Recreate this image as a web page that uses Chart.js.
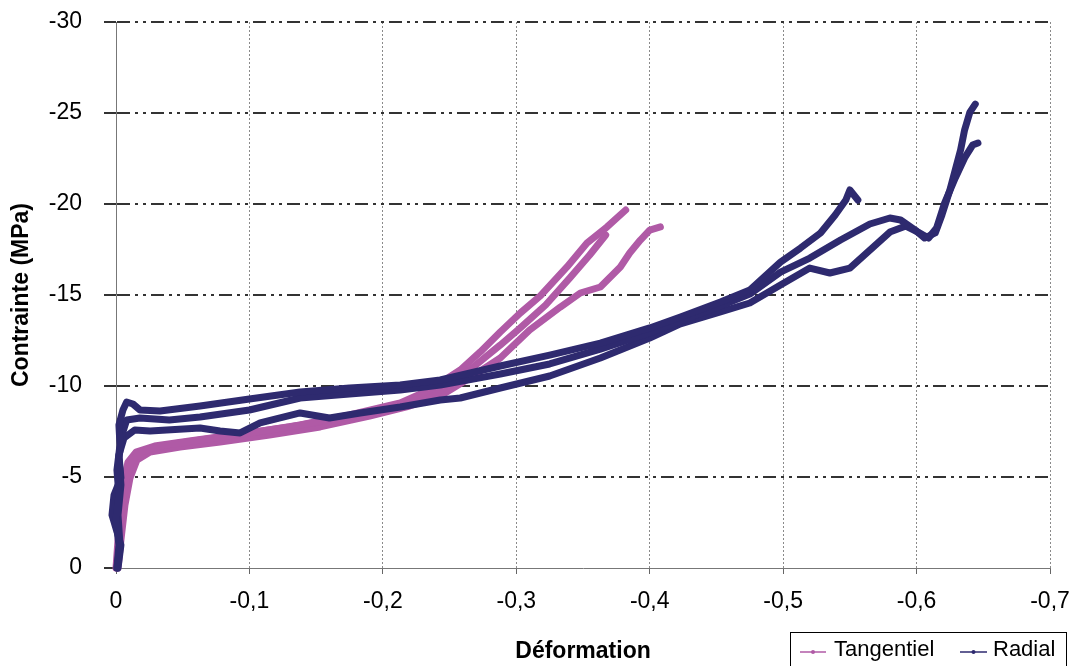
<!DOCTYPE html>
<html>
<head>
<meta charset="utf-8">
<script src="https://cdn.jsdelivr.net/npm/chart.js@4/dist/chart.umd.min.js"></script>
<style>
  html, body { margin: 0; padding: 0; background: #fff; }
  #wrap { position: relative; width: 1076px; height: 666px; }
</style>
</head>
<body>
<div id="wrap"><canvas id="chart"></canvas></div>
<script>
// Contrainte / Deformation - essais tangentiel et radial (3 courbes chacun)

var xTicks = [0, -0.1, -0.2, -0.3, -0.4, -0.5, -0.6, -0.7];
var yTicks = [0, -5, -10, -15, -20, -25, -30];
var seriesNames = ['Tangentiel', 'Radial'];

// Tangentiel
var tang1X = [-0.0007, -0.0022, -0.0045, -0.0075, -0.0112, -0.018, -0.033, -0.063, -0.100, -0.138, -0.175, -0.213, -0.235, -0.258, -0.273, -0.288, -0.303, -0.318, -0.338, -0.353, -0.368, -0.382];
var tang1Y = [0, -1.54, -3.46, -4.84, -5.82, -6.37, -6.70, -7.03, -7.42, -7.86, -8.41, -9.07, -9.78, -10.88, -11.87, -12.97, -14.01, -14.95, -16.54, -17.86, -18.74, -19.67];

var tang2X = [-0.0015, -0.0037, -0.0067, -0.0105, -0.0157, -0.0255, -0.048, -0.078, -0.115, -0.153, -0.190, -0.220, -0.243, -0.265, -0.288, -0.310, -0.333, -0.348, -0.363, -0.378, -0.385, -0.393, -0.400, -0.408];
var tang2Y = [0, -1.54, -3.46, -4.95, -5.93, -6.37, -6.65, -6.92, -7.31, -7.75, -8.35, -8.90, -9.45, -10.44, -11.54, -13.08, -14.34, -15.11, -15.44, -16.54, -17.31, -18.02, -18.57, -18.74];

var tang3X = [0, -0.0015, -0.0037, -0.006, -0.009, -0.015, -0.029, -0.055, -0.093, -0.130, -0.168, -0.213, -0.243, -0.265, -0.288, -0.303, -0.322, -0.340, -0.355, -0.367];
var tang3Y = [0, -1.54, -3.46, -4.84, -5.82, -6.37, -6.70, -6.98, -7.36, -7.75, -8.24, -8.96, -9.78, -10.88, -12.25, -13.19, -14.45, -15.93, -17.20, -18.30];

// Radial
var rad1X = [-0.0007, -0.0022, 0, -0.0022, -0.0007, -0.003, -0.0022, -0.0052, -0.008, -0.0127, -0.018, -0.033, -0.063, -0.100, -0.138, -0.175, -0.213, -0.243, -0.288, -0.325, -0.363, -0.400, -0.423, -0.453, -0.475, -0.498, -0.513, -0.528, -0.539, -0.547, -0.550, -0.556];
var rad1Y = [0, -1.26, -2.64, -4.01, -5.38, -6.76, -7.86, -8.68, -9.12, -9.01, -8.68, -8.63, -8.90, -9.29, -9.67, -9.89, -10.05, -10.33, -11.10, -11.70, -12.36, -13.19, -13.79, -14.62, -15.27, -16.81, -17.58, -18.41, -19.40, -20.22, -20.77, -20.22];

var rad2X = [-0.0007, -0.003, -0.0015, -0.0037, -0.0022, -0.0045, -0.008, -0.018, -0.040, -0.063, -0.100, -0.138, -0.175, -0.213, -0.243, -0.288, -0.325, -0.363, -0.400, -0.423, -0.453, -0.475, -0.498, -0.520, -0.543, -0.565, -0.580, -0.588, -0.599, -0.606, -0.614, -0.619, -0.625, -0.629, -0.633, -0.636, -0.640, -0.644];
var rad2Y = [0, -1.26, -2.91, -4.56, -6.04, -7.31, -8.13, -8.24, -8.13, -8.30, -8.68, -9.34, -9.56, -9.78, -10.05, -10.66, -11.21, -12.03, -12.91, -13.57, -14.40, -15.05, -16.26, -17.03, -18.02, -18.90, -19.23, -19.12, -18.57, -18.13, -18.41, -19.40, -20.77, -21.87, -22.97, -24.07, -25.05, -25.49];

var rad3X = [-0.0015, -0.0037, 0.003, 0.0015, -0.0037, -0.0022, -0.006, -0.014, -0.0255, -0.063, -0.078, -0.093, -0.108, -0.138, -0.160, -0.183, -0.213, -0.243, -0.258, -0.288, -0.325, -0.363, -0.400, -0.423, -0.453, -0.475, -0.498, -0.520, -0.535, -0.550, -0.565, -0.580, -0.592, -0.601, -0.609, -0.615, -0.621, -0.629, -0.636, -0.642, -0.646];
var rad3Y = [0, -1.26, -2.91, -4.01, -4.95, -6.21, -7.14, -7.58, -7.53, -7.69, -7.53, -7.42, -7.97, -8.52, -8.24, -8.52, -8.85, -9.23, -9.34, -9.89, -10.55, -11.54, -12.64, -13.41, -14.07, -14.56, -15.55, -16.48, -16.21, -16.48, -17.47, -18.46, -18.79, -18.46, -18.13, -18.68, -20.05, -21.43, -22.53, -23.24, -23.35];

var TANG_COLOR = '#b05aa6';
var RAD_COLOR = '#2e2a6f';
var FONT = "'Liberation Sans', Arial, sans-serif";

function pts(xs, ys) {
	return xs.map(function(x, i) { return { x: x, y: ys[i] }; });
}

function curve(xs, ys, color, order) {
	return {
		data: pts(xs, ys),
		showLine: true,
		borderColor: color,
		backgroundColor: color,
		borderWidth: 7,
		borderJoinStyle: 'round',
		borderCapStyle: 'round',
		pointRadius: 0,
		tension: 0,
		order: order,
		clip: { left: 10, top: 0, right: 0, bottom: 4 }
	};
}

function fmt(v) {
	if (Math.abs(v) < 1e-9) return '0';
	return v.toFixed(1).replace('.', ',');
}

// legend drawn in a frame at the bottom right, like the original
var legendBox = {
	id: 'legendBox',
	afterDraw: function(chart) {
		var ctx = chart.ctx;
		ctx.save();
		ctx.strokeStyle = '#000';
		ctx.lineWidth = 1;
		ctx.strokeRect(790.5, 632.5, 276, 40);
		var items = [
			{ name: seriesNames[0], color: TANG_COLOR, x0: 800, x1: 826, tx: 834 },
			{ name: seriesNames[1], color: RAD_COLOR, x0: 960, x1: 987, tx: 993 }
		];
		ctx.font = '22px ' + FONT;
		ctx.textBaseline = 'middle';
		ctx.textAlign = 'left';
		items.forEach(function(it) {
			ctx.strokeStyle = it.color;
			ctx.lineWidth = 1.5;
			ctx.beginPath();
			ctx.moveTo(it.x0, 652);
			ctx.lineTo(it.x1, 652);
			ctx.stroke();
			ctx.fillStyle = it.color;
			ctx.beginPath();
			ctx.arc((it.x0 + it.x1) / 2, 652, 2, 0, Math.PI * 2);
			ctx.fill();
			ctx.fillStyle = '#000';
			ctx.fillText(it.name, it.tx, 650);
		});
		ctx.restore();
	}
};

new Chart(document.getElementById('chart'), {
	type: 'scatter',
	data: {
		datasets: [
			curve(tang1X, tang1Y, TANG_COLOR, 2),
			curve(tang3X, tang3Y, TANG_COLOR, 2),
			curve(tang2X, tang2Y, TANG_COLOR, 2),
			curve(rad1X, rad1Y, RAD_COLOR, 1),
			curve(rad2X, rad2Y, RAD_COLOR, 1),
			curve(rad3X, rad3Y, RAD_COLOR, 1)
		]
	},
	options: {
		responsive: true,
		maintainAspectRatio: false,
		animation: false,
		layout: { padding: { left: 0, right: 26, top: 22, bottom: 0 } },
		plugins: {
			legend: { display: false },
			tooltip: { enabled: false }
		},
		scales: {
			x: {
				type: 'linear',
				min: -0.7,
				max: 0,
				reverse: true,
				afterFit: function(s) {
					s.height = 98;
					s.paddingLeft = 0;
					s.paddingRight = 20;
				},
				afterBuildTicks: function(s) { s.ticks = xTicks.map(function(v) { return { value: v }; }); },
				ticks: {
					color: '#000',
					font: { family: FONT, size: 23 },
					padding: 14,
					maxRotation: 0,
					callback: function(v) { return fmt(v); }
				},
				grid: {
					color: function(c) { return c.tick && c.tick.value === 0 ? 'rgba(0,0,0,0)' : '#8a8a8a'; },
					lineWidth: 1,
					tickLength: 6,
					tickColor: '#666',
					tickWidth: 1
				},
				border: { display: true, color: '#777', width: 1, dash: [2, 2] },
				title: {
					display: true,
					text: 'Déformation',
					color: '#000',
					font: { family: FONT, size: 23, weight: 'bold' },
					padding: { top: 0, bottom: 1 }
				}
			},
			y: {
				type: 'linear',
				min: -30,
				max: 0,
				reverse: true,
				afterFit: function(s) {
					s.width = 116;
					s.paddingTop = 14;
					s.paddingBottom = 0;
				},
				afterBuildTicks: function(s) { s.ticks = yTicks.map(function(v) { return { value: v }; }); },
				ticks: {
					color: '#000',
					font: { family: FONT, size: 23 },
					padding: 22,
					callback: function(v) { return fmt(v).replace(',0', ''); }
				},
				grid: {
					color: function(c) { return c.tick && c.tick.value === 0 ? 'rgba(0,0,0,0)' : '#333'; },
					lineWidth: 2,
					tickLength: 12,
					tickColor: '#333',
					tickWidth: 2
				},
				border: { display: true, color: '#777', width: 1, dash: [13, 5, 3, 5, 3, 5] },
				title: {
					display: true,
					text: 'Contrainte (MPa)',
					color: '#000',
					font: { family: FONT, size: 23, weight: 'bold' },
					padding: { top: 8, bottom: 0 }
				}
			}
		}
	},
	plugins: [legendBox]
});
</script>
</body>
</html>
